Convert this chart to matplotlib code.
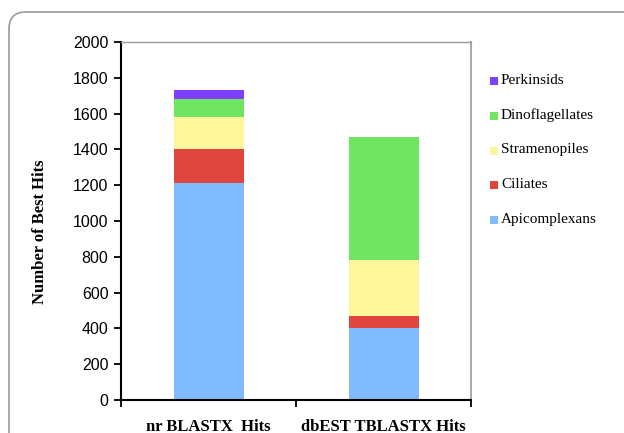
import matplotlib.pyplot as plt
from matplotlib.patches import FancyBboxPatch, Rectangle
import numpy as np

groups = ["nr BLASTX  Hits", "dbEST TBLASTX Hits"]
taxa = ["Apicomplexans", "Ciliates", "Stramenopiles", "Dinoflagellates", "Perkinsids"]
apicomplexans = [1215, 405]
ciliates = [190, 65]
stramenopiles = [175, 310]
dinoflagellates = [100, 690]
perkinsids = [50, 0]
colors = ["#80bbff", "#e0453d", "#fff59b", "#6fe562", "#7f3fff"]

W, H = 624, 433
fig = plt.figure(figsize=(W / 100, H / 100), dpi=100)

# rounded frame around the whole panel (right and bottom run off the page)
frame = FancyBboxPatch((9 / W, -0.2), 1.2, 1.2 - 12 / H,
                       boxstyle="round,pad=0,rounding_size=%f" % (17 / W),
                       transform=fig.transFigure, fc="none", ec="#999999",
                       lw=1.2, mutation_aspect=W / H)
fig.patches.append(frame)

ax = fig.add_axes([121 / W, 1 - 400 / H, 350 / W, 358 / H])
x = np.array([0.5, 1.5])
bottom = np.zeros(2)
series = [apicomplexans, ciliates, stramenopiles, dinoflagellates, perkinsids]
for name, vals, c in zip(taxa, series, colors):
    vals = np.array(vals, dtype=float)
    ax.bar(x, vals, 0.4, bottom=bottom, color=c, label=name, linewidth=0)
    bottom += vals

ax.set_xlim(0, 2)
ax.set_ylim(0, 2000)
ax.set_yticks(range(0, 2001, 200))
ax.set_yticklabels([str(v) for v in range(0, 2001, 200)],
                   fontfamily="Liberation Sans", fontsize=11.5)
ax.set_xticks([0, 1, 2])
ax.set_xticklabels([])
ax.set_xticks(x, minor=True)
ax.set_xticklabels(groups, minor=True, fontfamily="Liberation Serif",
                   fontweight="bold", fontsize=12)
ax.tick_params(axis="x", which="minor", length=0, pad=14)
ax.tick_params(axis="x", which="major", length=5, width=1.3, direction="out")
ax.tick_params(axis="y", length=5, width=1.3, direction="out", pad=4)
ax.spines["left"].set_linewidth(1.5)
ax.spines["bottom"].set_linewidth(1.5)
ax.spines["top"].set_color("#999999")
ax.spines["right"].set_color("#999999")
ax.spines["right"].set_linewidth(1.2)
ax.spines["top"].set_linewidth(1.0)
ax.set_ylabel("Number of Best Hits", fontfamily="Liberation Serif",
              fontweight="bold", fontsize=12)
ax.yaxis.set_label_coords(-0.21, 0.469)

# legend, top entry first
for i, (name, c) in enumerate(zip(taxa[::-1], colors[::-1])):
    yc = 1 - (80 + 34.8 * i) / H
    fig.patches.append(Rectangle((490 / W, yc - 5 / H), 8 / W, 8 / H,
                                 transform=fig.transFigure, fc=c, ec="none"))
    fig.text(501 / W, yc, name, fontfamily="Liberation Serif", fontsize=11,
             va="center", ha="left")

fig.savefig("out.png", dpi=100)
